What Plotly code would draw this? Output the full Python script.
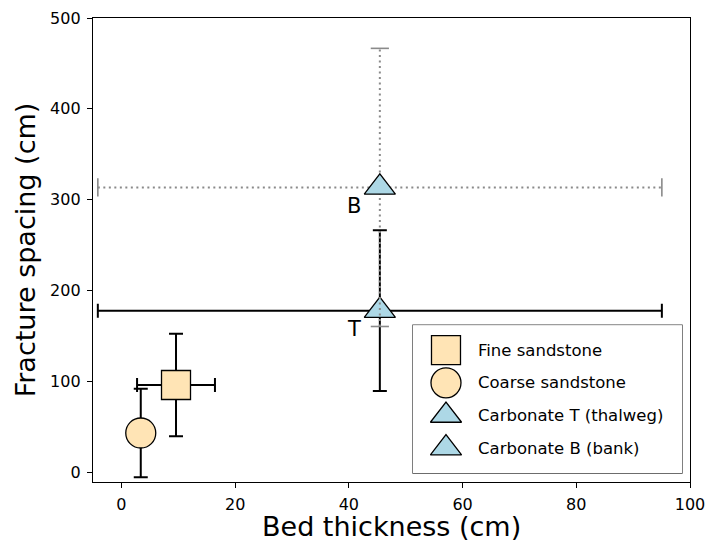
import plotly.graph_objects as go

# ---- data ----
names = ["Fine sandstone", "Coarse sandstone", "Carbonate T (thalweg)", "Carbonate B (bank)"]
bed_thickness = [9.6, 3.4, 45.45, 45.45]
bed_thickness_err = [6.85, 0.0, 49.6, 49.6]
fracture_spacing = [96.2, 43.4, 178.0, 313.6]
fracture_spacing_err = [56.4, 48.8, 88.4, 153.0]
point_labels = ["", "", "T", "B"]
x_ticks = [0, 20, 40, 60, 80, 100]
y_ticks = [0, 100, 200, 300, 400, 500]

# ---- styles ----
symbols = ["square", "circle", "triangle-up", "triangle-up"]
sizes = [29, 30, 27, 27]
fills = ["#FFE4B5", "#FFE4B5", "#ADD8E6", "#ADD8E6"]
dotted = [False, False, False, True]
FONT = "DejaVu Sans"
GRAY = "#8a8a8a"

fig = go.Figure()

for i, name in enumerate(names):
    x, y = bed_thickness[i], fracture_spacing[i]
    ex, ey = bed_thickness_err[i], fracture_spacing_err[i]
    marker = dict(symbol=symbols[i], size=sizes[i], color=fills[i],
                  line=dict(color="black", width=1.3))
    if not dotted[i]:
        fig.add_trace(go.Scatter(
            x=[x], y=[y], mode="markers", name=name, marker=marker,
            error_x=dict(type="data", array=[ex], visible=ex > 0,
                         color="black", thickness=2, width=7),
            error_y=dict(type="data", array=[ey], visible=True,
                         color="black", thickness=2, width=7),
            showlegend=False))
    else:
        # dotted gray error bars
        fig.add_trace(go.Scatter(
            x=[x - ex, x + ex, None, x, x],
            y=[y, y, None, y - ey, y + ey],
            mode="lines", line=dict(color=GRAY, width=2, dash="2px,3.5px"),
            hoverinfo="skip", showlegend=False))
        fig.add_trace(go.Scatter(
            x=[x - ex, x + ex], y=[y, y], mode="markers",
            marker=dict(symbol="line-ns", size=13, line=dict(color=GRAY, width=1.6)),
            hoverinfo="skip", showlegend=False))
        fig.add_trace(go.Scatter(
            x=[x, x], y=[y - ey, y + ey], mode="markers",
            marker=dict(symbol="line-ew", size=13, line=dict(color=GRAY, width=1.6)),
            hoverinfo="skip", showlegend=False))
        fig.add_trace(go.Scatter(
            x=[x], y=[y], mode="markers", name=name, marker=marker,
            showlegend=False))
    if point_labels[i]:
        fig.add_annotation(x=x - 4.6, y=y - 20, text=point_labels[i],
                           showarrow=False, xanchor="center", yanchor="middle",
                           font=dict(family=FONT, size=21, color="black"))

# ---- legend drawn on an inset axis (row index = series index) ----
for i, name in enumerate(names):
    fig.add_trace(go.Scatter(
        x=[33], y=[i], mode="markers", xaxis="x2", yaxis="y2",
        marker=dict(symbol=symbols[i], size=sizes[i], color=fills[i],
                    line=dict(color="black", width=1.3)),
        hoverinfo="skip", showlegend=False))
    fig.add_annotation(x=63, y=i, xref="x2", yref="y2", text=name,
                       showarrow=False, xanchor="left", yanchor="middle",
                       font=dict(family=FONT, size=16.5, color="black"))

fig.add_shape(type="rect", xref="paper", yref="paper",
              x0=0.536, x1=0.9866, y0=0.0194, y1=0.338,
              line=dict(color="#3c3c3c", width=1.3), fillcolor="white",
              layer="below")

# x-axis title placed below the tick labels
fig.add_annotation(x=0.5, y=0, xref="paper", yref="paper", yshift=-44,
                   text="Bed thickness (cm)", showarrow=False,
                   xanchor="center", yanchor="middle",
                   font=dict(family=FONT, size=27, color="black"))

axis_common = dict(showline=True, mirror=True, linecolor="black", linewidth=1.3,
                   ticks="outside", ticklen=5, tickwidth=1.3, tickcolor="black",
                   showgrid=False, zeroline=False, automargin=False,
                   ticklabelstandoff=3,
                   tickfont=dict(family=FONT, size=16, color="black"))

fig.update_layout(
    width=707, height=540,
    margin=dict(l=93, r=17, t=18, b=58),
    paper_bgcolor="white", plot_bgcolor="white",
    xaxis=dict(range=[-5, 100], tickvals=x_ticks, **axis_common),
    yaxis=dict(range=[-10.5, 500], tickvals=y_ticks,
               title=dict(text="Fracture spacing (cm)", standoff=6,
                          font=dict(family=FONT, size=27, color="black")),
               **axis_common),
    xaxis2=dict(domain=[0.536, 0.9866], range=[0, 269], anchor="y2", visible=False),
    yaxis2=dict(domain=[0.0194, 0.338], range=[3.76, -0.765], anchor="x2", visible=False),
    showlegend=False,
)

fig.write_html("out.html", config={"displayModeBar": False},
               post_script="document.body.style.margin='0';document.body.style.overflow='hidden';")
